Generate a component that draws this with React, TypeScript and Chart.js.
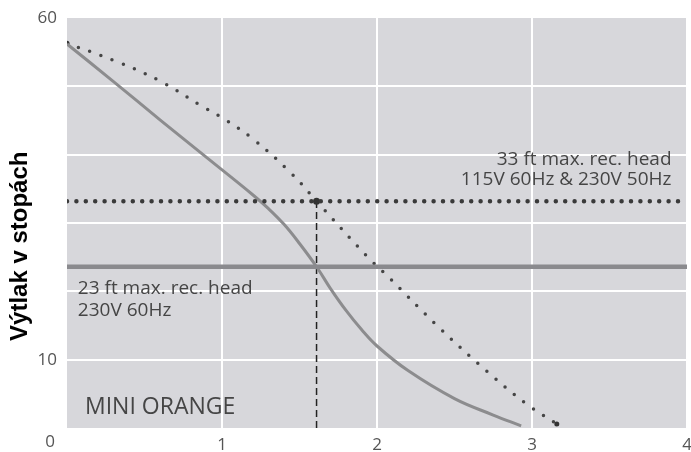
import React, { useEffect, useRef } from 'react';
import { Chart, registerables } from 'chart.js';

Chart.register(...registerables);

// ---- data ----
const xTickValues = [1, 2, 3, 4];
const yTickLabels = [10, 60];

// solid curve (230V 60Hz)
const solidX = [0, 0.3, 0.6, 0.9, 1.2, 1.3, 1.4, 1.5, 1.61, 1.7, 1.8, 1.9, 2.0, 2.2, 2.5, 2.75, 2.93];
const solidY = [56.2, 50.7, 45.1, 39.6, 34.1, 32.1, 29.8, 27.0, 23.6, 20.4, 17.2, 14.4, 12.0, 8.4, 4.3, 1.9, 0.3];

// dotted curve (115V 60Hz & 230V 50Hz)
const dottedX = [0, 0.3, 0.59, 0.87, 1.0, 1.2, 1.45, 1.61, 1.94, 2.06, 2.41, 2.71, 2.96, 3.16];
const dottedY = [56.3, 53.8, 50.9, 47.1, 45.4, 42.3, 37.2, 33.2, 25.0, 22.4, 14.5, 8.3, 3.6, 0.6];

const maxHead115 = 33.2;
const maxHead230 = 23.6;
const dutyFlow = 1.61;

const yTitle = 'Výtlak v stopách';
const note33 = ['33 ft max. rec. head', '115V 60Hz & 230V 50Hz'];
const note23 = ['23 ft max. rec. head', '230V 60Hz'];
const modelName = 'MINI ORANGE';
const cornerZero = '0';

export default function App() {
  const ref = useRef<HTMLCanvasElement>(null);

  useEffect(() => {
    document.body.style.margin = '0';
    const canvas = ref.current;
    if (!canvas) return;

    const bgPlugin = {
      id: 'plotBg',
      beforeDraw(chart: any) {
        const { ctx, chartArea: a } = chart;
        ctx.save();
        ctx.fillStyle = '#d7d7db';
        ctx.fillRect(a.left, a.top, a.right - a.left, a.bottom - a.top);
        ctx.restore();
      },
    };

    const notesPlugin = {
      id: 'notes',
      afterDraw(chart: any) {
        const { ctx, chartArea: a } = chart;
        const xs = chart.scales.x;
        const ys = chart.scales.y;
        ctx.save();
        ctx.fillStyle = '#454545';
        ctx.font = '19px "Open Sans"';
        ctx.textBaseline = 'alphabetic';
        ctx.textAlign = 'right';
        ctx.fillText(note33[0], xs.getPixelForValue(3.9), ys.getPixelForValue(38.5));
        ctx.fillText(note33[1], xs.getPixelForValue(3.9), ys.getPixelForValue(35.6));
        ctx.textAlign = 'left';
        ctx.fillText(note23[0], xs.getPixelForValue(0.07), ys.getPixelForValue(19.6));
        ctx.fillText(note23[1], xs.getPixelForValue(0.07), ys.getPixelForValue(16.4));
        ctx.font = '23px "Open Sans"';
        ctx.fillText(modelName, xs.getPixelForValue(0.116), ys.getPixelForValue(2.05));
        ctx.fillStyle = '#555';
        ctx.font = '17px "Open Sans"';
        ctx.textAlign = 'center';
        ctx.textBaseline = 'middle';
        ctx.fillText(cornerZero, a.left - 17, a.bottom + 14);
        // y-axis title, centred slightly below the plot middle as in the reference
        ctx.translate(20, ys.getPixelForValue(26.6));
        ctx.rotate(-Math.PI / 2);
        ctx.fillStyle = '#000';
        ctx.font = 'bold 24px "Liberation Sans"';
        ctx.fillText(yTitle, 0, 0);
        ctx.restore();
      },
    };

    const line = (xsArr: number[], ysArr: number[]) => xsArr.map((x, i) => ({ x, y: ysArr[i] }));

    const dottedRadius = dottedX.map((x, i) =>
      i === 0 || i === dottedX.length - 1 ? 2.5 : x === dutyFlow ? 3.5 : 0
    );

    const chart = new Chart(canvas, {
      type: 'scatter',
      data: {
        datasets: [
          {
            label: '230V 60Hz max head',
            data: [{ x: 0, y: maxHead230 }, { x: 4, y: maxHead230 }],
            showLine: true,
            borderColor: '#8a8a8e',
            borderWidth: 4.5,
            pointRadius: 0,
          },
          {
            label: '115V max head',
            data: [{ x: 0, y: maxHead115 }, { x: 4, y: maxHead115 }],
            showLine: true,
            borderColor: '#3a3a3a',
            borderWidth: 4.5,
            borderDash: [0, 9.4],
            borderCapStyle: 'round',
            pointRadius: 0,
          },
          {
            label: '230V 60Hz',
            data: line(solidX, solidY),
            showLine: true,
            borderColor: '#8c8c8e',
            borderWidth: 3,
            tension: 0.4,
            pointRadius: 0,
          },
          {
            label: '115V 60Hz & 230V 50Hz',
            data: line(dottedX, dottedY),
            showLine: true,
            borderColor: '#454545',
            borderWidth: 3.5,
            borderDash: [0, 12],
            borderCapStyle: 'round',
            tension: 0.4,
            pointRadius: dottedRadius,
            pointBackgroundColor: '#333',
            pointBorderWidth: 0,
          },
          {
            label: 'duty point',
            data: [{ x: dutyFlow, y: 0 }, { x: dutyFlow, y: maxHead115 }],
            showLine: true,
            borderColor: '#222',
            borderWidth: 1.5,
            borderDash: [7, 4],
            pointRadius: 0,
          },
        ],
      } as any,
      plugins: [bgPlugin, notesPlugin],
      options: {
        animation: false,
        responsive: true,
        maintainAspectRatio: false,
        events: [],
        layout: { padding: { top: 18, right: 2, left: 0, bottom: 0 } },
        plugins: { legend: { display: false }, tooltip: { enabled: false } },
        scales: {
          x: {
            type: 'linear',
            min: 0,
            max: 4,
            afterBuildTicks: (s: any) => {
              s.ticks = [0, ...xTickValues].map((v) => ({ value: v }));
            },
            ticks: {
              callback: (v: any) => (xTickValues.includes(Number(v)) ? String(v) : ''),
              font: { family: '"Open Sans"', size: 17 },
              color: '#555',
              padding: 7,
              maxRotation: 0,
            },
            grid: {
              color: (c: any) => (c.tick && c.tick.value === 0 ? 'rgba(0,0,0,0)' : '#ffffff'),
              lineWidth: 2,
              drawTicks: false,
            },
            border: { display: false },
            afterFit: (s: any) => {
              s.height = 24;
              s.paddingLeft = 0;
              s.paddingRight = 0;
            },
          },
          y: {
            type: 'linear',
            min: 0,
            max: 60,
            ticks: {
              stepSize: 10,
              callback: (v: any) => (yTickLabels.includes(Number(v)) ? String(v) : ''),
              font: { family: '"Open Sans"', size: 17 },
              color: '#555',
              padding: 10,
            },
            grid: {
              color: (c: any) =>
                c.tick && (c.tick.value === 0 || c.tick.value === 60) ? 'rgba(0,0,0,0)' : '#ffffff',
              lineWidth: 2,
              drawTicks: false,
            },
            border: { display: false },
            afterFit: (s: any) => {
              s.width = 67;
              s.paddingTop = 0;
              s.paddingBottom = 0;
            },
          },
        },
      } as any,
    });

    return () => chart.destroy();
  }, []);

  return (
    <div style={{ position: 'relative', width: 691, height: 452 }}>
      <canvas ref={ref} />
    </div>
  );
}
